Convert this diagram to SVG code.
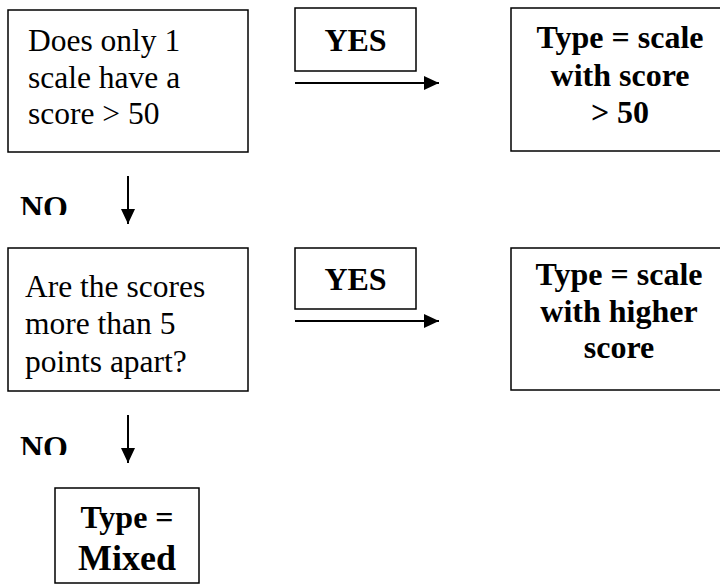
<svg xmlns="http://www.w3.org/2000/svg" width="720" height="584" viewBox="0 0 720 584">
<style>
.box{fill:#fff;stroke:#000;stroke-width:1.5}
.t{font-family:"Liberation Serif","Times New Roman",serif;font-size:31.5px;fill:#000}
.b{font-weight:bold;font-size:32px}
.c{text-anchor:middle}
.ln{stroke:#000;stroke-width:2;fill:none}
</style>
<defs>
<marker id="ah" markerWidth="16" markerHeight="14" refX="15" refY="7" orient="auto" markerUnits="userSpaceOnUse">
<path d="M0,0 L15,7 L0,14 Z" fill="#000"/>
</marker>
<clipPath id="clipNo1"><rect x="0" y="180" width="100" height="35"/></clipPath>
<clipPath id="clipNo2"><rect x="0" y="420" width="100" height="35"/></clipPath>
</defs>
<rect width="720" height="584" fill="#fff"/>
<g id="q1">
<rect class="box" x="8" y="10" width="240" height="142"/>
<text class="t" x="28" y="51">Does only 1</text>
<text class="t" x="28" y="88">scale have a</text>
<text class="t" x="28" y="124">score &gt; 50</text>
</g>
<g id="yes1">
<rect class="box" x="295" y="8" width="121" height="63"/>
<text class="t b c" x="355.5" y="51">YES</text>
</g>
<g id="r1">
<rect class="box" x="511" y="8" width="215" height="143"/>
<text class="t b c" x="620" y="48">Type = scale</text>
<text class="t b c" x="620" y="86">with score</text>
<text class="t b c" x="620" y="123">&gt; 50</text>
</g>
<g id="no1">
<text class="t b" x="20" y="218" clip-path="url(#clipNo1)">NO</text>
</g>
<g id="q2">
<rect class="box" x="8" y="248" width="240" height="143"/>
<text class="t" x="25" y="297">Are the scores</text>
<text class="t" x="25" y="334">more than 5</text>
<text class="t" x="25" y="372">points apart?</text>
</g>
<g id="yes2">
<rect class="box" x="295" y="248" width="121" height="61"/>
<text class="t b c" x="355.5" y="290">YES</text>
</g>
<g id="r2">
<rect class="box" x="511" y="248" width="215" height="142"/>
<text class="t b c" x="619" y="285">Type = scale</text>
<text class="t b c" x="619" y="322">with higher</text>
<text class="t b c" x="619" y="358">score</text>
</g>
<g id="no2">
<text class="t b" x="20" y="458" clip-path="url(#clipNo2)">NO</text>
</g>
<g id="mixed">
<rect class="box" x="55" y="488" width="144" height="95"/>
<text class="t b c" x="127" y="528">Type =</text>
<text class="t b c" x="127" y="570" style="font-size:36px">Mixed</text>
</g>
<g id="connectors">
<line class="ln" x1="295" y1="83" x2="439" y2="83" marker-end="url(#ah)"/>
<line class="ln" x1="295" y1="321" x2="439" y2="321" marker-end="url(#ah)"/>
<line class="ln" x1="128" y1="176" x2="128" y2="224" marker-end="url(#ah)"/>
<line class="ln" x1="128" y1="415" x2="128" y2="463" marker-end="url(#ah)"/>
</g>
</svg>
